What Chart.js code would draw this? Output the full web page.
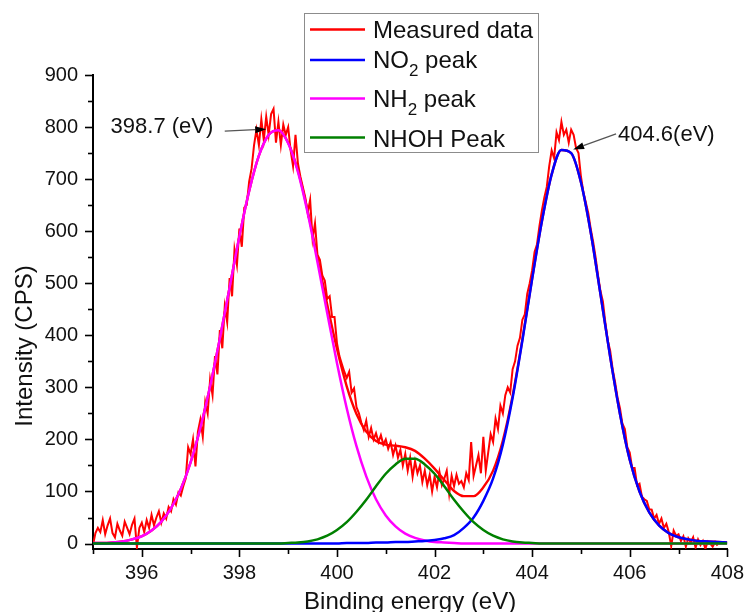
<!DOCTYPE html>
<html><head><meta charset="utf-8">
<script src="https://cdn.jsdelivr.net/npm/chart.js@4.4.0/dist/chart.umd.min.js"></script>
<style>html,body{margin:0;padding:0;background:#fff;}canvas{display:block;}</style>
</head><body>
<canvas id="c" width="748" height="612"></canvas>
<script>
// ---- data ----
const measuredStart = 395.0, measuredStep = 0.05;   // binding energy of first sample, spacing (eV)
const measured = [
 -3,20,30,22,45,18,35,48,20,12,38,25,15,42,30,18,36,48,-8,30,
 40,22,45,30,55,35,50,62,40,58,48,70,62,85,75,98,92,110,125,185,
 172,200,148,215,238,205,272,250,315,285,360,325,410,375,455,425,510,475,565,535,
 605,570,645,650,695,720,765,795,765,815,775,820,785,825,835,770,810,765,805,785,
 800,755,725,785,730,705,685,665,635,660,585,615,555,545,515,505,470,475,435,435,
 385,360,345,330,318,330,290,298,262,250,232,218,236,205,222,200,212,195,208,190,
 200,182,195,170,188,165,180,150,172,140,165,128,158,135,150,118,140,112,132,100,
 128,108,138,112,125,140,95,130,110,132,115,120,108,135,122,195,130,150,170,135,
 205,140,175,210,195,240,220,265,250,285,300,290,335,350,380,395,430,440,480,500,
 525,560,575,610,640,665,685,725,755,740,790,775,810,785,795,770,795,785,760,750,
 705,675,655,635,605,580,550,515,485,465,425,390,370,335,310,280,260,230,220,185,
 175,145,145,112,115,90,85,82,66,65,48,55,38,48,30,38,22,-5,25,15,
 18,5,14,-6,10,2,12,-8,8,-3,5,-10,4,0,-6,3,-4
];
const fitStart = 395.0, fitStep = 0.2;
const no2Peak = [
 0,0,0,0,0,0,0,0,0,0, 0,0,0,0,0,0,0,0,0,0, 0,0,0,0,0,0,1,1,1,2,
 2,3,3,4,5,7,10,16,30,50, 82,125,190,280,390,508,619,709,756,750,
 694,598,479,358,249,161,100,60,35,20, 12,8,5,4,3,2
];
const nh2Peak = [
 1,1,2,4,8,14,25,42,68,105, 156,222,302,394,492,590,677,745,785,794,
 769,714,635,541,443,347,260,187,129,85, 54,33,19,11,6,3,2,1,0,0,
 0,0,0,0,0,0,0,0,0,0, 0,0,0,0,0,0,0,0,0,0, 0,0,0,0,0,0
];
const nhohPeak = [
 0,0,0,0,0,0,0,0,0,0, 0,0,0,0,0,0,0,0,0,0,
 1,2,4,8,15,26,41,61,84,110, 134,152,163,163,152,134,110,84,61,41,
 26,15,8,4,2,1,0,0,0,0, 0,0,0,0,0,0,0,0,0,0, 0,0,0,0,0,0
];
const fitEnvelope = [
 1,1,2,4,8,14,25,42,68,105, 156,222,302,394,492,590,677,745,785,794,
 770,716,639,549,459,374,302,249,215,197, 190,188,185,178,163,144,122,101,91,91,
 108,140,198,284,392,509,619,709,756,750, 694,598,479,358,249,161,100,60,35,20,
 12,8,5,4,3,2
];
const legendLabels = ['Measured data', 'NO_2 peak', 'NH_2 peak', 'NHOH Peak'];
const legendColors = ['#ff0000', '#0000ff', '#ff00ff', '#008000'];
const annotations = [
  {text:'398.7 (eV)', tip:[398.55, 796], tail:[397.7, 792], at:[395.36, 788]},
  {text:'404.6(eV)',  tip:[404.84, 757], tail:[405.72, 787], at:[405.76, 774]}
];

// ---- build tables ----
const toXY = (start, step, arr) => arr.map((v, i) => ({x: +(start + i * step).toFixed(3), y: v}));
const FONT = "'Liberation Sans', Arial, sans-serif";
const TXT = '#111';

const lineDs = (data, color, w) => ({
  data, borderColor: color, backgroundColor: color, borderWidth: w,
  pointRadius: 0, fill: false, cubicInterpolationMode: 'monotone'
});

const datasets = [
  lineDs(toXY(fitStart, fitStep, nhohPeak), legendColors[3], 2.5),
  lineDs(toXY(fitStart, fitStep, no2Peak), legendColors[1], 2.5),
  lineDs(toXY(fitStart, fitStep, nh2Peak), legendColors[2], 2.5),
  lineDs(toXY(fitStart, fitStep, fitEnvelope), legendColors[0], 2.4),
  Object.assign(lineDs(toXY(measuredStart, measuredStep, measured), legendColors[0], 2), {cubicInterpolationMode: 'default', tension: 0})
];

function drawRich(ctx, label, x, y, size) {
  const parts = label.split('_');
  let cx = x;
  ctx.textAlign = 'left'; ctx.textBaseline = 'alphabetic';
  parts.forEach((p, i) => {
    if (i === 0) {
      ctx.font = size + 'px ' + FONT; ctx.fillText(p, cx, y); cx += ctx.measureText(p).width;
    } else {
      const sub = p[0], rest = p.slice(1);
      ctx.font = Math.round(size * 0.7) + 'px ' + FONT; ctx.fillText(sub, cx, y + 8); cx += ctx.measureText(sub).width;
      ctx.font = size + 'px ' + FONT; ctx.fillText(rest, cx, y); cx += ctx.measureText(rest).width;
    }
  });
}

const overlay = {
  id: 'overlay',
  afterDraw(chart) {
    const ctx = chart.ctx, xs = chart.scales.x, ys = chart.scales.y, a = chart.chartArea;
    ctx.save();
    // tick marks (major / minor)
    ctx.strokeStyle = '#000'; ctx.lineWidth = 1.6;
    xs.ticks.forEach(t => {
      const px = Math.round(xs.getPixelForValue(t.value)) + 0.5;
      const len = (t.label !== '') ? 8 : 5;
      ctx.beginPath(); ctx.moveTo(px, a.bottom); ctx.lineTo(px, a.bottom + len); ctx.stroke();
    });
    ys.ticks.forEach(t => {
      const py = Math.round(ys.getPixelForValue(t.value)) + 0.5;
      const len = (t.label !== '') ? 8 : 5;
      ctx.beginPath(); ctx.moveTo(a.left, py); ctx.lineTo(a.left - len, py); ctx.stroke();
    });
    // axis titles
    ctx.fillStyle = TXT;
    ctx.font = '24px ' + FONT; ctx.textAlign = 'center'; ctx.textBaseline = 'alphabetic';
    ctx.fillText('Binding energy (eV)', (a.left + a.right) / 2, 609);
    ctx.save(); ctx.translate(32, 346); ctx.rotate(-Math.PI / 2);
    ctx.fillText('Intensity (CPS)', 0, 0); ctx.restore();
    // annotations
    annotations.forEach(an => {
      const tx = xs.getPixelForValue(an.tip[0]), ty = ys.getPixelForValue(an.tip[1]);
      const sx = xs.getPixelForValue(an.tail[0]), sy = ys.getPixelForValue(an.tail[1]);
      const ang = Math.atan2(ty - sy, tx - sx), hl = 11, hw = 3.5;
      const bx = tx - hl * Math.cos(ang), by = ty - hl * Math.sin(ang);
      ctx.strokeStyle = '#555'; ctx.lineWidth = 1.2;
      ctx.beginPath(); ctx.moveTo(sx, sy); ctx.lineTo(bx, by); ctx.stroke();
      ctx.fillStyle = '#000';
      ctx.beginPath(); ctx.moveTo(tx, ty);
      ctx.lineTo(bx + hw * Math.sin(ang), by - hw * Math.cos(ang));
      ctx.lineTo(bx - hw * Math.sin(ang), by + hw * Math.cos(ang));
      ctx.closePath(); ctx.fill();
      ctx.fillStyle = TXT; ctx.font = '22px ' + FONT; ctx.textAlign = 'left';
      ctx.fillText(an.text, xs.getPixelForValue(an.at[0]), ys.getPixelForValue(an.at[1]));
    });
    // legend box
    ctx.fillStyle = '#fff'; ctx.fillRect(304, 13, 234, 139);
    ctx.strokeStyle = '#8c8c8c'; ctx.lineWidth = 1; ctx.strokeRect(304.5, 13.5, 234, 139);
    const rows = [29.5, 60, 98.5, 137.5], bases = [37.7, 68, 106.7, 146.5];
    legendLabels.forEach((lab, i) => {
      ctx.strokeStyle = legendColors[i]; ctx.lineWidth = 2.5;
      ctx.beginPath(); ctx.moveTo(310, rows[i]); ctx.lineTo(365, rows[i]); ctx.stroke();
      ctx.fillStyle = TXT; drawRich(ctx, lab, 373, bases[i], 24);
    });
    ctx.restore();
  }
};

new Chart(document.getElementById('c'), {
  type: 'line',
  data: { datasets },
  options: {
    responsive: false, animation: false, events: [],
    layout: { padding: { top: 75, right: 18, left: 0, bottom: 0 } },
    plugins: { legend: { display: false }, tooltip: { enabled: false } },
    scales: {
      x: {
        type: 'linear', min: 395, max: 408,
        afterFit(s) { s.height = 63; },
        grid: { display: true, drawOnChartArea: false, drawTicks: true, tickLength: 8, tickColor: 'rgba(0,0,0,0)' },
        border: { display: true, color: '#000', width: 2 },
        ticks: { stepSize: 1, autoSkip: false, maxRotation: 0, includeBounds: false, padding: 4, color: TXT,
          font: { family: FONT, size: 20 },
          callback: v => (Math.round(v) % 2 === 0 ? String(v) : '') }
      },
      y: {
        type: 'linear', min: -10.5, max: 900,
        afterFit(s) { s.width = 93; },
        grid: { display: true, drawOnChartArea: false, drawTicks: true, tickLength: 8, tickColor: 'rgba(0,0,0,0)' },
        border: { display: true, color: '#000', width: 2 },
        ticks: { stepSize: 50, autoSkip: false, includeBounds: false, padding: 7, color: TXT,
          font: { family: FONT, size: 20 },
          callback: v => (v >= 0 && Math.round(v) % 100 === 0 ? String(v) : '') }
      }
    }
  },
  plugins: [overlay]
});
</script>
</body></html>
